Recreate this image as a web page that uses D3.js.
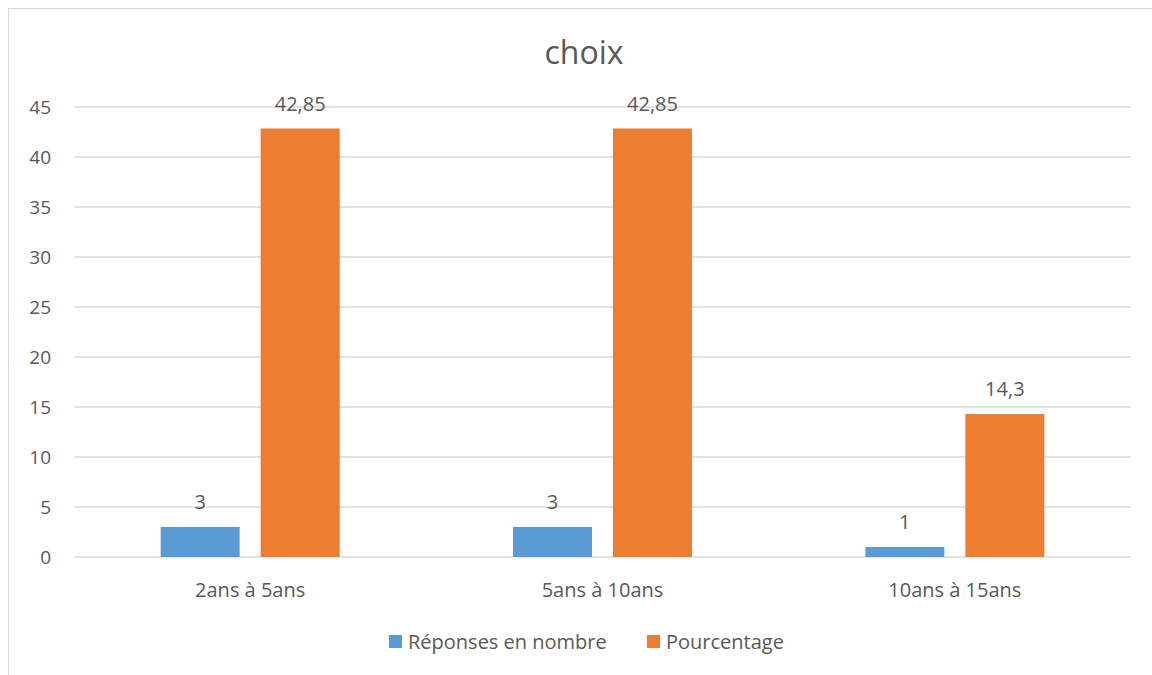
<!DOCTYPE html>
<meta charset="utf-8">
<style>
body { margin: 0; background: #fff; }
text { font-family: "Open Sans", "Noto Sans", sans-serif; fill: #595959; }
</style>
<body>
<script src="https://cdn.jsdelivr.net/npm/d3@7"></script>
<script>

var categories = ["2ans à 5ans", "5ans à 10ans", "10ans à 15ans"];
var series = ["Réponses en nombre", "Pourcentage"];
var reponses = [3, 3, 1];
var pourcentage = [42.85, 42.85, 14.3];
var yTicks = [0, 5, 10, 15, 20, 25, 30, 35, 40, 45];
var colors = ["#5b9bd5", "#ed7d31"];

var width = 1152, height = 675;
var fmt = function(v) { return String(v).replace(".", ","); };

var svg = d3.select("body").append("svg")
    .attr("width", width)
    .attr("height", height);

// chart frame
svg.append("rect")
    .attr("x", 8.5).attr("y", 8.5)
    .attr("width", width + 10).attr("height", height + 10)
    .attr("fill", "none")
    .attr("stroke", "#d9d9d9");

var x = d3.scaleBand().domain(categories).range([74, 1131]);
var inner = d3.scaleBand().domain(series).range([0, 179]).paddingInner(0.21);
var y = d3.scaleLinear().domain([0, 45]).range([557, 107]);

// gridlines
svg.append("g").selectAll("line")
    .data(yTicks)
  .enter().append("line")
    .attr("x1", 74).attr("x2", 1131)
    .attr("y1", function(d) { return y(d); })
    .attr("y2", function(d) { return y(d); })
    .attr("stroke", "#d9d9d9")
    .attr("stroke-width", 1.3);

// y tick labels
svg.append("g").selectAll("text")
    .data(yTicks)
  .enter().append("text")
    .attr("x", 51)
    .attr("y", function(d) { return y(d); })
    .attr("dy", "0.35em")
    .attr("text-anchor", "end")
    .style("font-size", "19px")
    .text(function(d) { return d; });

// bars
var rows = categories.map(function(c, i) {
  return { cat: c, vals: [reponses[i], pourcentage[i]] };
});

var groups = svg.append("g").selectAll("g")
    .data(rows)
  .enter().append("g")
    .attr("transform", function(d) {
      return "translate(" + (x(d.cat) + x.bandwidth() / 2 - 89.5) + ",0)";
    });

groups.selectAll("rect")
    .data(function(d) { return d.vals; })
  .enter().append("rect")
    .attr("x", function(d, i) { return inner(series[i]); })
    .attr("width", inner.bandwidth())
    .attr("y", function(d) { return y(d); })
    .attr("height", function(d) { return y(0) - y(d); })
    .attr("fill", function(d, i) { return colors[i]; });

groups.selectAll("text")
    .data(function(d) { return d.vals; })
  .enter().append("text")
    .attr("x", function(d, i) { return inner(series[i]) + inner.bandwidth() / 2; })
    .attr("y", function(d) { return y(d) - 18; })
    .attr("text-anchor", "middle")
    .style("font-size", "20px")
    .text(function(d) { return fmt(d); });

// category labels
svg.append("g").selectAll("text")
    .data(categories)
  .enter().append("text")
    .attr("x", function(d) { return x(d) + x.bandwidth() / 2; })
    .attr("y", 597)
    .attr("text-anchor", "middle")
    .style("font-size", "20px")
    .text(function(d) { return d; });

// title
svg.append("text")
    .attr("x", 584)
    .attr("y", 64)
    .attr("text-anchor", "middle")
    .style("font-size", "32px")
    .text("choix");

// legend
var legendX = [389, 647];
var legend = svg.append("g").selectAll("g")
    .data(series)
  .enter().append("g")
    .attr("transform", function(d, i) { return "translate(" + legendX[i] + ",635)"; });

legend.append("rect")
    .attr("width", 13).attr("height", 13)
    .attr("fill", function(d, i) { return colors[i]; });

legend.append("text")
    .attr("x", 19)
    .attr("y", 6.5)
    .attr("dy", "0.35em")
    .style("font-size", "20px")
    .text(function(d) { return d; });

</script>
</body>
